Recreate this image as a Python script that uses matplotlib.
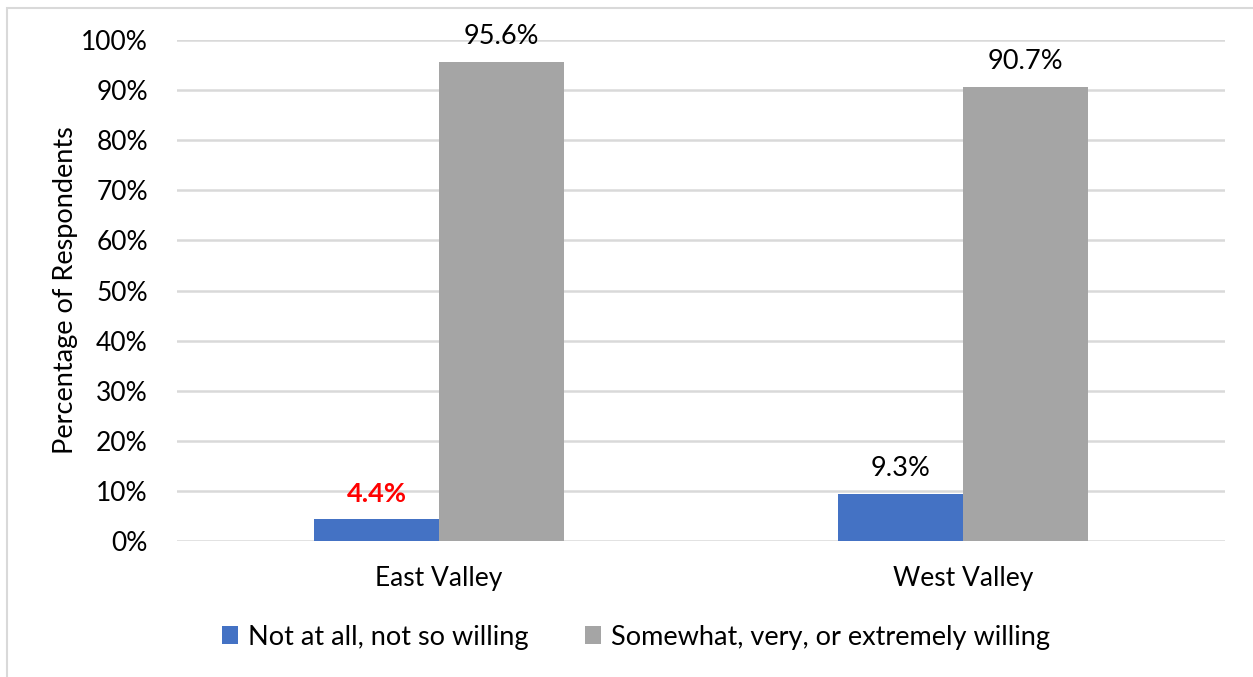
import numpy as np
import matplotlib.pyplot as plt
from matplotlib.patches import Rectangle

# data
regions = ['East Valley', 'West Valley']
series_names = ['Not at all, not so willing', 'Somewhat, very, or extremely willing']
not_willing = [4.4, 9.3]
willing = [95.6, 90.7]
y_ticks = [0, 10, 20, 30, 40, 50, 60, 70, 80, 90, 100]

plt.rcParams['font.family'] = ['Lato', 'DejaVu Sans']

fig = plt.figure(figsize=(12.53, 6.77), dpi=100)
ax = fig.add_axes([0.1413, 0.2009, 0.8364, 0.7400])

# light frame round the chart area
fig.patches.append(Rectangle((7 / 1253, -0.01), 1.1, 1 - 8 / 677 + 0.01,
                             transform=fig.transFigure, fill=False,
                             edgecolor='#d9d9d9', linewidth=1.5))

x = np.arange(len(regions))
w = 0.239
b1 = ax.bar(x - w / 2, not_willing, w, color='#4472C4', label=series_names[0], zorder=3)
b2 = ax.bar(x + w / 2, willing, w, color='#A5A5A5', label=series_names[1], zorder=3)

# value labels
for i, bar in enumerate(b1):
    if i == 0:
        ax.text(bar.get_x() + bar.get_width() / 2, bar.get_height() + 2.6, f'{not_willing[i]}%',
                ha='center', va='bottom', fontsize=19.5, color='#ff0000', fontweight='bold')
    else:
        ax.text(bar.get_x() + bar.get_width() / 2, bar.get_height() + 2.6, f'{not_willing[i]}%',
                ha='center', va='bottom', fontsize=19.5, color='black')
for i, bar in enumerate(b2):
    ax.text(bar.get_x() + bar.get_width() / 2, bar.get_height() + 2.6, f'{willing[i]}%',
            ha='center', va='bottom', fontsize=19.5, color='black')

ax.set_xlim(-0.5, 1.5)
ax.set_ylim(0, 100)
ax.set_yticks(y_ticks)
ax.set_yticklabels([f'{t}%' for t in y_ticks], fontsize=19)
ax.set_xticks(x)
ax.set_xticklabels(regions, fontsize=19)
ax.tick_params(axis='both', length=0)
ax.tick_params(axis='y', pad=21)
ax.tick_params(axis='x', pad=18)
ax.grid(axis='y', color='#d9d9d9', linewidth=1.8, zorder=0)
ax.set_axisbelow(True)
for s in ax.spines.values():
    s.set_visible(False)

ax.set_ylabel('Percentage of Respondents', fontsize=19.5, labelpad=2)

ax.legend(loc='center', bbox_to_anchor=(636 / 1253, 1 - 637 / 677), bbox_transform=fig.transFigure,
          ncol=2, frameon=False, fontsize=19.5, handlelength=0.6, handleheight=0.6,
          handletextpad=0.35, columnspacing=2.1)

fig.savefig('out.png', dpi=100)
